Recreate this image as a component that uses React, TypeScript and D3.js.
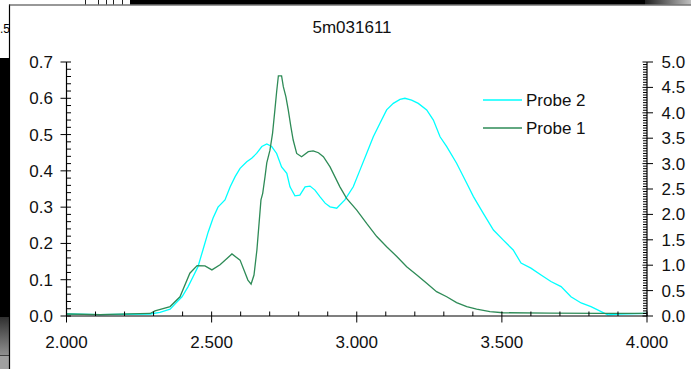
import React from 'react';
import * as d3 from 'd3';

const W = 691;
const H = 369;

const chartTitle = '5m031611';
const seriesNames = ['Probe 2', 'Probe 1'];

const xMajorTicks = [2.0, 2.5, 3.0, 3.5, 4.0];
const leftMajorTicks = [0, 0.1, 0.2, 0.3, 0.4, 0.5, 0.6, 0.7];
const rightMajorTicks = [0, 0.5, 1.0, 1.5, 2.0, 2.5, 3.0, 3.5, 4.0, 4.5, 5.0];

// Probe 1 (green)
const probe1X = [2.000, 2.115, 2.288, 2.305, 2.357, 2.391, 2.425, 2.450, 2.477, 2.501, 2.529, 2.570, 2.598, 2.625, 2.636, 2.646, 2.656, 2.670, 2.676, 2.684, 2.690, 2.701, 2.710, 2.718, 2.724, 2.730, 2.741, 2.747, 2.756, 2.764, 2.773, 2.781, 2.793, 2.810, 2.833, 2.850, 2.868, 2.885, 2.908, 2.942, 2.965, 3.000, 3.034, 3.069, 3.103, 3.138, 3.172, 3.207, 3.241, 3.275, 3.310, 3.344, 3.379, 3.413, 3.459, 3.504, 3.666, 3.838, 4.000];
const probe1Y = [0.0055, 0.004, 0.007, 0.014, 0.026, 0.053, 0.118, 0.139, 0.138, 0.127, 0.141, 0.171, 0.154, 0.099, 0.088, 0.113, 0.182, 0.320, 0.338, 0.384, 0.422, 0.457, 0.504, 0.568, 0.618, 0.662, 0.662, 0.632, 0.604, 0.568, 0.522, 0.485, 0.448, 0.439, 0.453, 0.455, 0.450, 0.439, 0.411, 0.356, 0.324, 0.292, 0.255, 0.219, 0.191, 0.164, 0.136, 0.113, 0.090, 0.067, 0.053, 0.037, 0.026, 0.019, 0.012, 0.009, 0.008, 0.007, 0.007];

// Probe 2 (cyan)
const probe2X = [2.000, 2.115, 2.288, 2.322, 2.357, 2.377, 2.398, 2.419, 2.436, 2.453, 2.470, 2.488, 2.505, 2.522, 2.546, 2.564, 2.581, 2.598, 2.621, 2.638, 2.655, 2.673, 2.690, 2.707, 2.724, 2.741, 2.759, 2.770, 2.787, 2.804, 2.822, 2.839, 2.856, 2.873, 2.891, 2.908, 2.931, 2.959, 2.988, 3.011, 3.034, 3.057, 3.080, 3.103, 3.126, 3.149, 3.166, 3.189, 3.212, 3.241, 3.264, 3.287, 3.310, 3.344, 3.379, 3.402, 3.436, 3.471, 3.505, 3.539, 3.566, 3.600, 3.635, 3.669, 3.704, 3.738, 3.773, 3.807, 3.842, 3.865, 3.907, 4.000];
const probe2Y = [0.0055, 0.004, 0.0055, 0.010, 0.019, 0.036, 0.053, 0.081, 0.108, 0.136, 0.182, 0.231, 0.270, 0.300, 0.320, 0.356, 0.384, 0.407, 0.425, 0.435, 0.448, 0.467, 0.474, 0.467, 0.448, 0.411, 0.393, 0.356, 0.331, 0.333, 0.356, 0.358, 0.347, 0.329, 0.311, 0.301, 0.297, 0.320, 0.356, 0.402, 0.448, 0.494, 0.531, 0.568, 0.586, 0.597, 0.600, 0.595, 0.586, 0.568, 0.540, 0.494, 0.467, 0.421, 0.366, 0.329, 0.283, 0.237, 0.209, 0.182, 0.146, 0.132, 0.113, 0.095, 0.081, 0.053, 0.036, 0.026, 0.012, 0.003, 0.0055, 0.007];

const CYAN = '#00ffff';
const GREEN = '#2e8b57';
const FONT = '"Liberation Sans", Arial, Helvetica, sans-serif';

export default function App() {
  const left = 66.5, right = 647, top = 62, bottom = 316;
  const x = d3.scaleLinear().domain([2, 4]).range([left, right]);
  const yL = d3.scaleLinear().domain([0, 0.7]).range([bottom, top]);
  const yR = d3.scaleLinear().domain([0, 5]).range([bottom, top]);

  const line = d3.line<[number, number]>().x(d => x(d[0])).y(d => yL(d[1]));
  const p1 = line(probe1X.map((v, i) => [v, probe1Y[i]] as [number, number])) || '';
  const p2 = line(probe2X.map((v, i) => [v, probe2Y[i]] as [number, number])) || '';

  const xMinor = d3.range(2, 4.0001, 0.1).filter(v => Math.abs(v * 2 - Math.round(v * 2)) > 1e-6);
  const lMinor = d3.range(0, 0.7001, 0.02).filter(v => Math.abs(v * 10 - Math.round(v * 10)) > 1e-6);
  const rMinor = d3.range(0, 5.0001, 0.05).filter(v => Math.abs(v * 2 - Math.round(v * 2)) > 1e-6);

  const fmtX = d3.format('.3f');
  const fmtY = d3.format('.1f');

  return (
    <svg width={W} height={H} style={{ position: 'absolute', left: 0, top: 0, display: 'block' }}
      fontFamily={FONT}>
      <defs>
        <linearGradient id="gTop" x1="0" x2="1" y1="0" y2="0">
          <stop offset="0" stopColor="#202020" />
          <stop offset="1" stopColor="#c0c0c0" />
        </linearGradient>
        <linearGradient id="gLeft" x1="0" x2="0" y1="0" y2="1">
          <stop offset="0" stopColor="#303030" />
          <stop offset="1" stopColor="#909090" />
        </linearGradient>
      </defs>
      {/* background desktop fragments */}
      <rect x={0} y={0} width={W} height={H} fill="#ffffff" />
      <rect x={130} y={0} width={515} height={4.5} fill="#000" />
      <rect x={645} y={0} width={46} height={4.5} fill="url(#gTop)" />
      {[85, 98, 106, 113, 122].map(v => (
        <line key={v} x1={v + 0.5} x2={v + 0.5} y1={0} y2={4.5} stroke="#222" strokeWidth={1} />
      ))}
      <rect x={0} y={58} width={10} height={259} fill="#000" />
      <rect x={0} y={317} width={10} height={38} fill="url(#gLeft)" />
      <rect x={0} y={355} width={10} height={14} fill="#a0a0a0" />
      <line x1={0} x2={10} y1={355.5} y2={355.5} stroke="#404040" />
      <text x={0} y={33} fontSize={12} textAnchor="start" fill="#000">.5</text>
      {/* window */}
      <rect x={10} y={5} width={681} height={364} fill="#ffffff" />
      <line x1={9.5} x2={9.5} y1={4.5} y2={H} stroke="#000" strokeWidth={1.2} />
      <line x1={9} x2={W} y1={5} y2={5} stroke="#333" strokeWidth={1.2} />

      {/* title */}
      <text x={352} y={32.5} fontSize={17} textAnchor="middle" fill="#111">{chartTitle}</text>

      {/* series */}
      <path d={p2} fill="none" stroke={CYAN} strokeWidth={1.3} />
      <path d={p1} fill="none" stroke={GREEN} strokeWidth={1.3} />

      {/* axes lines */}
      <g stroke="#000" strokeWidth={1.2} fill="none">
        <line x1={left} x2={left} y1={top} y2={bottom} />
        <line x1={right} x2={right} y1={top} y2={bottom} />
        <line x1={left} x2={right} y1={bottom} y2={bottom} />
      </g>
      {/* ticks */}
      <g stroke="#000" strokeWidth={1}>
        {xMajorTicks.map(v => (
          <line key={'xm' + v} x1={x(v)} x2={x(v)} y1={bottom - 4.5} y2={bottom + 6.5} />
        ))}
        {xMinor.map(v => (
          <line key={'xn' + v} x1={x(v)} x2={x(v)} y1={bottom - 4.5} y2={bottom} />
        ))}
        {leftMajorTicks.map(v => (
          <line key={'lm' + v} x1={left - 6} x2={left + 4.5} y1={yL(v)} y2={yL(v)} />
        ))}
        {lMinor.map(v => (
          <line key={'ln' + v} x1={left} x2={left + 4.5} y1={yL(v)} y2={yL(v)} />
        ))}
        {rightMajorTicks.map(v => (
          <line key={'rm' + v} x1={right - 4.5} x2={right + 6} y1={yR(v)} y2={yR(v)} />
        ))}
        {rMinor.map(v => (
          <line key={'rn' + v} x1={right - 4} x2={right} y1={yR(v)} y2={yR(v)} />
        ))}
      </g>
      {/* tick labels */}
      <g fontSize={17} fill="#111">
        {xMajorTicks.map(v => (
          <text key={'xl' + v} x={x(v)} y={348} textAnchor="middle">{fmtX(v)}</text>
        ))}
        {leftMajorTicks.map(v => (
          <text key={'ll' + v} x={53} y={yL(v) + 6} textAnchor="end">{fmtY(v)}</text>
        ))}
        {rightMajorTicks.map(v => (
          <text key={'rl' + v} x={661.5} y={yR(v) + 6} textAnchor="start">{fmtY(v)}</text>
        ))}
      </g>

      {/* legend */}
      <line x1={483} x2={522} y1={100} y2={100} stroke={CYAN} strokeWidth={1.3} />
      <line x1={483} x2={522} y1={128} y2={128} stroke={GREEN} strokeWidth={1.3} />
      <text x={526} y={105.5} fontSize={17} fill="#111">{seriesNames[0]}</text>
      <text x={526} y={133.5} fontSize={17} fill="#111">{seriesNames[1]}</text>
    </svg>
  );
}
